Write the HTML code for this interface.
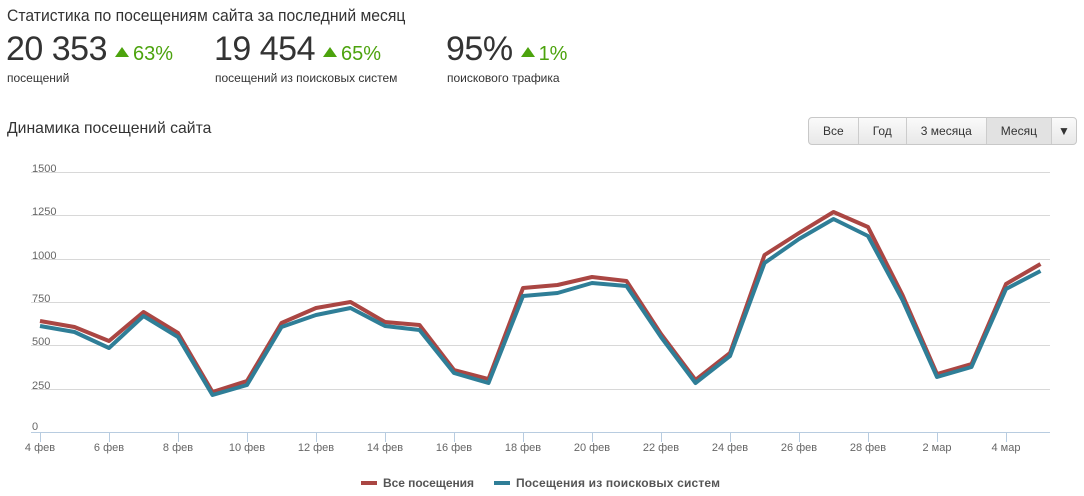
<!DOCTYPE html>
<html><head><meta charset="utf-8"><style>
body{margin:0;width:1084px;height:496px;background:#fff;font-family:"Liberation Sans","DejaVu Sans",sans-serif;color:#333;position:relative;overflow:hidden}
.a{position:absolute;white-space:nowrap}
.big{font-size:34px;color:#333;letter-spacing:-0.5px}
.pct{font-size:20px;color:#4ca30d}
.tri{display:inline-block;width:0;height:0;border-left:7px solid transparent;border-right:7px solid transparent;border-bottom:10px solid #4ca30d;margin:0 4px 3px 8px}
.sub{font-size:12px;color:#333}
.btns{position:absolute;left:808px;top:117px;height:26px;border:1px solid #c8c8c8;border-radius:4px;display:flex;font-size:12px;background:linear-gradient(#fafafa,#e8e8e8);overflow:hidden}
.btns div{padding:0 14px;line-height:26px;border-right:1px solid #ccc}
.btns div:last-child{border-right:none;padding:0 6px}
</style></head><body>
<div class="a" style="left:7px;top:6px;font-size:17px;transform:scaleX(0.925);transform-origin:0 0">Статистика по посещениям сайта за последний месяц</div>
<div class="a" style="left:6px;top:30px"><span class="big">20 353</span><span class="tri"></span><span class="pct">63%</span></div>
<div class="a sub" style="left:7px;top:71px">посещений</div>
<div class="a" style="left:214px;top:30px"><span class="big">19 454</span><span class="tri"></span><span class="pct">65%</span></div>
<div class="a sub" style="left:215px;top:71px">посещений из поисковых систем</div>
<div class="a" style="left:446px;top:30px"><span class="big">95%</span><span class="tri"></span><span class="pct">1%</span></div>
<div class="a sub" style="left:447px;top:71px">поискового трафика</div>
<div class="a" style="left:7px;top:120px;font-size:16px;transform:scaleX(0.985);transform-origin:0 0">Динамика посещений сайта</div>
<div class="btns"><div>Все</div><div>Год</div><div>3 месяца</div><div style="background:#e2e2e2">Месяц</div><div>▼</div></div>
<svg class="a" style="left:0;top:0" width="1084" height="496" font-family="Liberation Sans, DejaVu Sans, sans-serif">
<g stroke="#d8d8d8" stroke-width="1">
<line x1="31" x2="1050" y1="172.5" y2="172.5"/><line x1="31" x2="1050" y1="215.5" y2="215.5"/><line x1="31" x2="1050" y1="259.5" y2="259.5"/><line x1="31" x2="1050" y1="302.5" y2="302.5"/><line x1="31" x2="1050" y1="345.5" y2="345.5"/><line x1="31" x2="1050" y1="389.5" y2="389.5"/>
</g>
<line x1="31" x2="1050" y1="432.5" y2="432.5" stroke="#b8cce0"/>
<g stroke="#b8cce0"><line x1="40.5" x2="40.5" y1="432" y2="442"/><line x1="109.5" x2="109.5" y1="432" y2="442"/><line x1="178.5" x2="178.5" y1="432" y2="442"/><line x1="247.5" x2="247.5" y1="432" y2="442"/><line x1="316.5" x2="316.5" y1="432" y2="442"/><line x1="385.5" x2="385.5" y1="432" y2="442"/><line x1="454.5" x2="454.5" y1="432" y2="442"/><line x1="523.5" x2="523.5" y1="432" y2="442"/><line x1="592.5" x2="592.5" y1="432" y2="442"/><line x1="661.5" x2="661.5" y1="432" y2="442"/><line x1="730.5" x2="730.5" y1="432" y2="442"/><line x1="799.5" x2="799.5" y1="432" y2="442"/><line x1="868.5" x2="868.5" y1="432" y2="442"/><line x1="937.5" x2="937.5" y1="432" y2="442"/><line x1="1006.5" x2="1006.5" y1="432" y2="442"/></g>
<g font-size="11" fill="#666">
<text x="32" y="172">1500</text><text x="32" y="215">1250</text><text x="32" y="259">1000</text><text x="32" y="302">750</text><text x="32" y="345">500</text><text x="32" y="389">250</text><text x="32" y="430">0</text>
</g>
<g font-size="11" fill="#666" text-anchor="middle">
<text x="40" y="451">4 фев</text><text x="109" y="451">6 фев</text><text x="178" y="451">8 фев</text><text x="247" y="451">10 фев</text><text x="316" y="451">12 фев</text><text x="385" y="451">14 фев</text><text x="454" y="451">16 фев</text><text x="523" y="451">18 фев</text><text x="592" y="451">20 фев</text><text x="661" y="451">22 фев</text><text x="730" y="451">24 фев</text><text x="799" y="451">26 фев</text><text x="868" y="451">28 фев</text><text x="937" y="451">2 мар</text><text x="1006" y="451">4 мар</text>
</g>
<polyline fill="none" stroke="#aa4643" stroke-width="4" stroke-linejoin="round" points="40,321 74.5,327 109,341 143.5,312 178,333 212.5,392 247,381 281.5,323 316,308 350.5,302 385,322 419.5,325 454,370 488.5,379 523,288 557.5,285 592,277 626.5,281 661,334 695.5,380 730,353 764.5,255 799,233 833.5,212 868,227 902.5,295 937,374 971.5,364 1006,284 1040.5,264"/>
<polyline fill="none" stroke="#2f7e97" stroke-width="4" stroke-linejoin="round" points="40,326 74.5,332 109,348 143.5,316 178,337 212.5,395 247,385 281.5,327 316,315 350.5,308 385,326 419.5,330 454,373 488.5,383 523,296 557.5,293 592,283 626.5,286 661,337 695.5,383 730,356 764.5,263 799,239 833.5,219 868,236 902.5,300 937,377 971.5,367 1006,289 1040.5,271"/>
<line x1="361" x2="377" y1="483" y2="483" stroke="#aa4643" stroke-width="4"/>
<text x="383" y="487" font-size="12" font-weight="bold" fill="#555" textLength="91">Все посещения</text>
<line x1="494" x2="510" y1="483" y2="483" stroke="#2f7e97" stroke-width="4"/>
<text x="516" y="487" font-size="12" font-weight="bold" fill="#555" textLength="204">Посещения из поисковых систем</text>
</svg>
</body></html>
